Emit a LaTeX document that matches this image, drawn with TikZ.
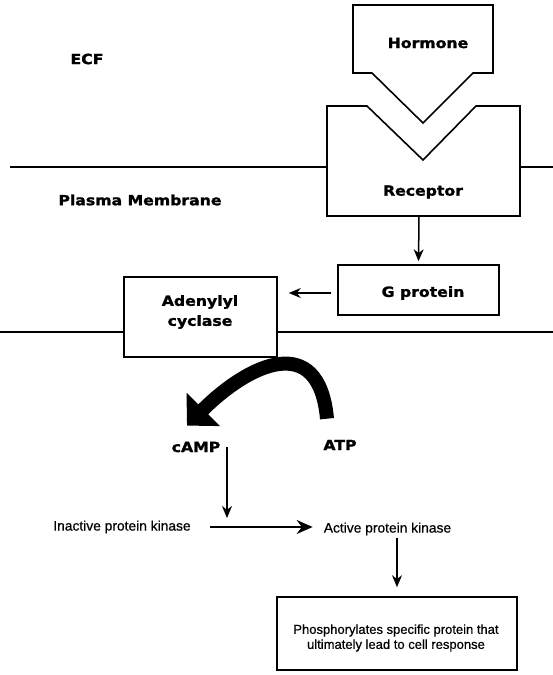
\documentclass[tikz,border=0pt]{standalone}
\usepackage{fontspec}
\usetikzlibrary{arrows.meta}
\newfontfamily\lblfont[FakeStretch=1.12, FakeBold=1.6]{DejaVu Sans}
\newfontfamily\txtfont[FakeBold=0.6]{Liberation Sans}

\begin{document}
\begin{tikzpicture}[x=1pt, y=-1pt,
    box/.style={draw, fill=white, line width=1.6pt, inner sep=0pt},
    lbl/.style={font=\lblfont\bfseries\fontsize{14}{20}\selectfont, inner sep=2pt},
    txt/.style={font=\txtfont\fontsize{13.8}{15}\selectfont, inner sep=2pt},
    arr/.style={line width=1.5pt, -{Stealth[length=12pt, width=10pt]}}]
  \useasboundingbox (0,0) rectangle (553,675);

  % Membrane
  \draw [line width=2.6pt] (10,167) -- (553,167);
  \draw [line width=1.3pt] (0,332) -- (553,332);
  \node [lbl] (ecf) at (87,59) {ECF};
  \node [lbl] (pm) at (140,200) {Plasma Membrane};

  % Hormone and receptor
  \draw [box] (353,5) -- (493,5) -- (493,73) -- (473,73) -- (423,123)
        -- (372,73) -- (353,73) -- cycle;
  \node [lbl] (hormone) at (428,43) {Hormone};
  \draw [box] (327,106) -- (367,106) -- (423,160) -- (476,106)
        -- (520,106) -- (520,216) -- (327,216) -- cycle;
  \node [lbl] (receptor) at (423,192) {Receptor};
  \coordinate (recb) at (419,216);

  % G protein and adenylyl cyclase
  \node [box, minimum width=161pt, minimum height=50pt] (gprot) at (418.5,290) {};
  \node [lbl] (gprotlbl) at (423,293) {G protein};
  \node [box, minimum width=153pt, minimum height=80pt] (adcy) at (200.5,317) {};
  \node [lbl, align=center] (adcylbl) at (200,312) {Adenylyl\\cyclase};

  \draw [arr, shorten >=3pt] (recb) -- (gprot.north);
  \draw [arr, shorten <=6pt, shorten >=11pt] (gprot.west |- gprotlbl) -- (adcy.east |- gprotlbl);

  % cAMP and ATP
  \node [lbl] (camp) at (196,447) {cAMP};
  \node [lbl] (atp) at (340,445) {ATP};
  \draw [line width=14pt, -{Triangle[width=46pt, length=23pt]}]
        ([xshift=-13pt, yshift=19pt]atp.north) .. controls +(-8,-88) and +(62,-62) ..
        ([xshift=-9pt, yshift=14pt]camp.north);

  % Protein kinase
  \node [txt] (inact) at (122,527) {Inactive protein kinase};
  \node [txt] (active) at (387.5,529) {Active protein kinase};
  \coordinate (hit) at (227,518);
  \draw [arr] (camp.east -| hit) -- (hit);
  \draw [line width=1.8pt, -{Stealth[length=16pt, width=14pt]}, shorten <=17pt, shorten >=9pt]
        (inact.east) -- (active.west |- inact.east);

  % Response
  \node [box, minimum width=240pt, minimum height=73pt] (resp) at (397,633.5) {};
  \node [txt, font=\txtfont\fontsize{13}{15}\selectfont, align=center] (resplbl) at (396,638)
        {Phosphorylates specific protein that\\ ultimately lead to cell response};
  \draw [arr, shorten >=9pt] (active.south -| resp) -- (resp.north);
\end{tikzpicture}
\end{document}
